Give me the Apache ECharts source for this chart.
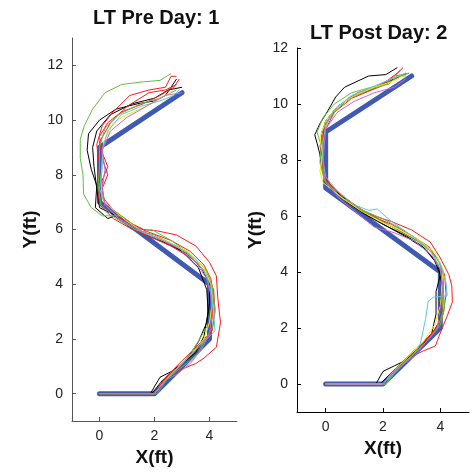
<!DOCTYPE html>
<html>
<head>
<meta charset="utf-8">
<script src="https://cdn.jsdelivr.net/npm/echarts@6/dist/echarts.min.js"></script>
<style>
  html, body { margin: 0; padding: 0; background: #fff; }
  #chart { width: 471px; height: 472px; }
</style>
</head>
<body>
<div id="chart"></div>
<script>
// reference (ideal) path, same for both days
const refPath = [[0, 0], [2, 0], [4, 2], [4, 4], [0, 7], [0, 9], [3, 11]];

const xTicks = [0, 2, 4];
const yTicksPre = [0, 2, 4, 6, 8, 10, 12];
const yTicksPost = [0, 2, 4, 6, 8, 10, 12];

const trialColors = {
  black: '#000000',
  red: '#ff1a1a',
  green: '#66bb44',
  yellow: '#eeee00',
  cyan: '#55c8e6',
  magenta: '#cc66cc'
};

// LT Pre Day: 1 - walked trials
const pre1 = [[0,0],[1.85,0],[2.2,0.6],[2.6,0.8],[3.0,1.1],[3.5,1.5],[3.8,2.1],[3.95,3.0],[3.9,3.8],[3.6,4.6],[3.0,5.2],[2.2,5.6],[1.5,5.9],[1.0,6.2],[0.6,6.5],[0.3,6.4],[-0.15,6.8],[-0.1,7.6],[-0.3,8.2],[-0.45,8.9],[-0.4,9.5],[0.0,10.0],[0.6,10.4],[1.4,10.6],[2.0,10.7],[2.4,10.9],[2.6,11.2],[2.8,11.5]];
const pre2 = [[0,0],[1.9,0],[2.3,0.5],[2.7,0.8],[3.2,1.3],[3.6,1.9],[3.9,2.6],[4.0,3.3],[4.0,4.0],[3.7,4.6],[3.2,5.1],[2.5,5.5],[1.7,5.8],[1.1,6.1],[0.6,6.5],[0.0,6.8],[-0.1,7.5],[-0.2,8.3],[-0.25,9.0],[-0.1,9.6],[0.4,10.2],[1.2,10.6],[2.0,10.8],[2.5,11.1],[3.0,11.2]];
const pre3 = [[0,0],[2.0,0],[2.5,0.7],[3.0,0.9],[3.5,1.1],[3.8,1.3],[4.25,1.7],[4.4,2.6],[4.3,3.5],[4.25,4.3],[4.0,4.8],[3.5,5.4],[2.8,5.8],[2.1,5.95],[1.6,6.0],[1.0,6.3],[0.5,6.7],[0.1,7.2],[0.1,7.8],[0.3,8.3],[0.1,8.8],[0.0,9.4],[0.3,9.9],[0.8,10.3],[1.6,10.6],[2.2,10.9],[2.7,11.2],[2.9,11.5]];
const pre4 = [[0,0],[2.0,0],[2.4,0.6],[2.9,1.0],[3.3,1.4],[3.7,1.9],[4.1,2.3],[4.2,3.0],[4.15,3.8],[3.9,4.4],[3.4,4.9],[2.6,5.4],[1.9,5.7],[1.2,6.0],[0.5,6.4],[0.0,6.9],[-0.05,7.6],[0.0,8.4],[-0.1,9.1],[0.1,9.8],[0.5,10.3],[1.1,10.9],[1.8,11.1],[2.4,11.2],[2.6,11.6],[2.8,11.6]];
const pre5 = [[0,0],[2.0,0],[2.3,0.4],[2.7,0.9],[3.1,1.3],[3.6,1.8],[4.0,2.1],[4.1,2.8],[4.15,3.6],[4.05,4.2],[3.8,4.7],[3.3,5.2],[2.6,5.6],[1.8,5.9],[1.1,6.2],[0.6,6.5],[0.2,6.9],[0.1,7.5],[0.3,8.0],[0.1,8.6],[0.0,9.2],[0.4,9.9],[1.0,10.5],[1.8,11.0],[2.4,11.1],[2.8,11.3]];
const pre6 = [[0,0],[2.0,0],[2.4,0.5],[2.9,0.9],[3.3,1.2],[3.6,1.5],[3.8,1.9],[4.1,2.4],[4.2,3.1],[4.1,3.9],[3.8,4.6],[3.3,5.1],[2.6,5.6],[1.9,6.0],[1.6,5.9],[0.8,6.5],[0.1,6.5],[-0.3,6.8],[-0.58,7.3],[-0.6,8.0],[-0.7,8.6],[-0.7,9.3],[-0.55,9.8],[-0.25,10.4],[0.2,11.0],[0.8,11.3],[1.6,11.4],[2.2,11.45],[2.6,11.7]];
const pre7 = [[0,0],[2.1,0],[2.5,0.6],[3.0,1.1],[3.4,1.6],[3.7,2.1],[4.0,2.6],[4.1,3.3],[4.1,3.9],[3.9,4.5],[3.4,5.0],[2.8,5.4],[2.0,5.8],[1.3,6.0],[0.6,6.4],[0.05,6.9],[-0.05,7.6],[0.0,8.3],[0.0,9.0],[0.2,9.7],[0.7,10.2],[1.5,10.6],[2.2,10.8],[2.6,11.0],[2.8,11.1]];
const pre8 = [[0,0],[2.0,0],[2.4,0.5],[2.9,1.0],[3.4,1.5],[3.8,2.0],[4.0,2.6],[4.1,3.3],[4.05,4.0],[3.8,4.6],[3.2,5.2],[2.4,5.6],[1.6,5.9],[1.0,6.3],[0.5,6.7],[0.1,7.1],[0.05,7.8],[0.1,8.5],[0.15,9.2],[0.5,9.9],[1.0,10.2],[1.7,10.5],[2.2,10.8],[2.6,11.0]];
const pre9 = [[0,0],[2.0,0],[2.5,0.6],[3.0,1.1],[3.5,1.6],[3.9,2.0],[4.2,2.3],[4.15,3.0],[4.05,3.7],[3.9,4.3],[3.5,4.9],[2.8,5.4],[2.0,5.7],[1.3,6.0],[0.7,6.4],[0.2,6.9],[0.0,7.5],[0.1,8.2],[0.1,8.9],[0.3,9.6],[0.8,10.2],[1.5,10.5],[2.2,10.7],[2.7,10.9],[2.9,11.1]];
const pre10 = [[0,0],[2.0,0],[2.4,0.5],[2.8,0.7],[3.3,1.1],[3.7,1.6],[4.0,2.2],[4.1,2.9],[4.05,3.6],[3.9,4.2],[3.5,4.8],[2.9,5.3],[2.1,5.7],[1.4,6.0],[0.7,6.4],[0.2,6.9],[0.1,7.5],[0.2,8.2],[0.1,8.9],[0.4,9.6],[1.0,10.1],[1.7,10.5],[2.4,10.9],[3.0,11.0]];

// LT Post Day: 2 - walked trials
const post1 = [[0,0],[1.75,0],[2.0,0.45],[2.4,0.65],[2.9,0.9],[3.3,1.3],[3.7,1.8],[3.85,2.5],[3.85,3.3],[4.0,3.9],[3.8,4.4],[3.4,4.9],[2.8,5.3],[2.0,5.7],[1.3,6.1],[0.6,6.6],[0.0,7.2],[-0.15,7.8],[-0.2,8.2],[-0.3,8.6],[-0.38,8.9],[-0.2,9.3],[0.07,9.75],[0.35,10.25],[0.66,10.6],[1.5,11.0],[2.1,11.05],[2.5,11.3]];
const post2 = [[0,0],[1.9,0],[2.2,0.3],[2.6,0.7],[3.1,1.1],[3.6,1.6],[3.95,2.2],[4.0,2.9],[4.05,3.6],[3.9,4.3],[3.5,4.8],[2.9,5.2],[2.2,5.6],[1.5,6.0],[0.8,6.5],[0.1,7.1],[-0.1,7.7],[-0.1,8.3],[-0.15,8.9],[0.0,9.4],[0.4,9.9],[1.0,10.3],[1.8,10.6],[2.4,10.9],[2.8,11.1]];
const post3 = [[0,0],[2.0,0],[2.4,0.4],[2.85,0.9],[3.4,1.18],[3.83,1.36],[3.95,1.7],[4.24,2.43],[4.42,2.93],[4.4,3.5],[4.3,3.9],[4.0,4.5],[3.65,5.07],[3.0,5.5],[2.3,5.8],[1.7,6.0],[1.1,6.3],[0.5,6.8],[0.0,7.3],[-0.1,8.0],[-0.2,8.5],[0.0,9.1],[0.3,9.7],[0.8,10.2],[1.5,10.5],[2.1,10.8],[2.5,11.1],[2.7,11.3]];
const post4 = [[0,0],[2.0,0],[2.4,0.5],[2.8,0.9],[3.3,1.4],[3.8,1.9],[4.1,2.5],[4.2,3.2],[4.15,3.9],[3.9,4.5],[3.4,5.0],[2.7,5.4],[2.0,5.8],[1.3,6.2],[0.6,6.7],[0.05,7.2],[-0.1,7.7],[-0.2,8.2],[-0.1,8.7],[-0.05,9.2],[0.3,9.7],[0.9,10.2],[1.6,10.5],[2.1,10.7],[2.6,11.0],[2.9,11.1]];
const post5 = [[0,0],[2.0,0],[2.3,0.3],[2.7,0.7],[3.2,1.2],[3.7,1.8],[4.05,2.3],[4.1,3.0],[4.1,3.7],[4.0,4.3],[3.6,4.9],[3.0,5.3],[2.3,5.7],[1.6,6.0],[0.9,6.4],[0.3,6.9],[0.0,7.4],[-0.1,8.0],[-0.15,8.7],[0.0,9.3],[0.4,9.9],[1.1,10.4],[1.8,10.6],[2.3,10.9],[2.6,11.2]];
const post6 = [[0,0],[2.1,0],[2.5,0.5],[3.0,1.0],[3.5,1.5],[3.9,2.0],[4.1,2.6],[4.05,3.3],[4.1,3.9],[3.9,4.5],[3.4,5.0],[2.7,5.5],[2.0,5.9],[1.3,6.2],[0.6,6.6],[0.0,7.2],[-0.15,7.8],[-0.1,8.4],[-0.15,9.0],[0.2,9.6],[0.8,10.2],[1.5,10.5],[2.1,10.7],[2.4,11.0],[2.9,11.1]];
const post7 = [[0,0],[2.1,0],[2.5,0.6],[3.0,1.0],[3.6,1.6],[4.0,2.1],[4.15,2.7],[4.1,3.4],[4.0,4.1],[3.7,4.7],[3.2,5.1],[2.5,5.5],[1.8,5.9],[1.1,6.3],[0.5,6.7],[-0.05,7.3],[-0.2,7.9],[-0.15,8.5],[-0.3,9.0],[-0.1,9.5],[0.3,10.0],[0.9,10.4],[1.6,10.6],[2.2,10.7],[2.5,11.0],[2.8,11.0]];
const post8 = [[0,0],[2.0,0],[2.4,0.5],[2.9,1.0],[3.4,1.5],[3.8,2.1],[4.0,2.8],[4.05,3.5],[4.1,4.1],[3.8,4.7],[3.3,5.1],[2.6,5.5],[1.9,5.8],[1.2,6.2],[0.5,6.7],[-0.1,7.2],[-0.2,7.6],[-0.1,8.2],[-0.2,8.8],[0.0,9.4],[0.4,9.9],[1.0,10.3],[1.7,10.6],[2.3,10.8],[2.7,11.0]];
const post9 = [[0,0],[2.0,0],[2.4,0.4],[2.8,0.8],[3.1,1.1],[3.3,1.43],[3.48,2.3],[3.58,2.96],[3.76,3.1],[4.24,3.15],[4.2,3.6],[4.0,4.3],[3.6,4.8],[3.0,5.3],[2.3,5.8],[1.8,6.25],[1.5,6.2],[1.0,6.4],[0.4,6.9],[0.0,7.4],[-0.1,8.0],[-0.1,8.6],[0.0,9.2],[0.3,9.8],[0.9,10.3],[1.6,10.6],[2.3,10.9],[2.8,11.1]];
const post10 = [[0,0],[2.0,0],[2.3,0.4],[2.7,0.7],[3.1,1.0],[3.5,1.5],[3.9,2.0],[4.0,2.7],[4.1,3.4],[4.0,4.1],[3.7,4.6],[3.1,5.1],[2.4,5.4],[1.7,5.6],[1.1,6.1],[0.5,6.6],[0.0,7.2],[-0.1,7.8],[-0.05,8.5],[0.0,9.1],[0.4,9.7],[1.0,10.1],[1.7,10.4],[2.4,10.6],[2.8,10.9]];

const preTrials = [
  ['black', pre1], ['black', pre2], ['red', pre3], ['red', pre4], ['red', pre5],
  ['green', pre6], ['green', pre7], ['yellow', pre8], ['cyan', pre9], ['magenta', pre10]
];
const postTrials = [
  ['black', post1], ['black', post2], ['red', post3], ['red', post4], ['red', post5],
  ['green', post6], ['green', post7], ['yellow', post8], ['cyan', post9], ['magenta', post10]
];

const FONT = 'Liberation Sans, Arial, sans-serif';

function makeAxes(idx, yMax, yTicks, axisColor) {
  const lineStyle = { color: axisColor, width: 1 };
  const x = {
    type: 'value', gridIndex: idx, min: -1, max: 5,
    axisLine: { show: true, onZero: false, lineStyle: lineStyle },
    axisTick: { show: true, inside: true, length: 4, customValues: xTicks, lineStyle: lineStyle },
    axisLabel: { customValues: xTicks, color: '#222', fontSize: 14, fontFamily: FONT, margin: 8 },
    splitLine: { show: false },
    name: 'X(ft)', nameLocation: 'middle', nameGap: 27,
    nameTextStyle: { fontSize: 19, fontWeight: 'bold', color: '#111', fontFamily: FONT }
  };
  const y = {
    type: 'value', gridIndex: idx, min: -1, max: yMax,
    axisLine: { show: true, onZero: false, lineStyle: lineStyle },
    axisTick: { show: true, inside: true, length: 4, customValues: yTicks, lineStyle: lineStyle },
    axisLabel: { customValues: yTicks, color: '#222', fontSize: 14, fontFamily: FONT, margin: 9 },
    splitLine: { show: false },
    name: 'Y(ft)', nameLocation: 'middle', nameGap: 32,
    nameTextStyle: { fontSize: 19, fontWeight: 'bold', color: '#111', fontFamily: FONT }
  };
  return [x, y];
}

function makeSeries(idx, trials) {
  const out = [{
    type: 'line', xAxisIndex: idx, yAxisIndex: idx,
    data: refPath, showSymbol: false, symbol: 'none',
    lineStyle: { color: '#3f5ab0', width: 5, cap: 'round', join: 'round' },
    silent: true, animation: false
  }];
  trials.forEach(function (t) {
    out.push({
      type: 'line', xAxisIndex: idx, yAxisIndex: idx,
      data: t[1], showSymbol: false, symbol: 'none',
      lineStyle: { color: trialColors[t[0]], width: 1 },
      silent: true, animation: false
    });
  });
  return out;
}

const chart = echarts.init(document.getElementById('chart'), null, { renderer: 'canvas' });

const preAxes = makeAxes(0, 13, yTicksPre, '#555');
const postAxes = makeAxes(1, 12, yTicksPost, '#000');

chart.setOption({
  animation: false,
  backgroundColor: '#fff',
  grid: [
    { left: 72, top: 38, width: 165, height: 385 },
    { left: 297, top: 48, width: 172, height: 364 }
  ],
  xAxis: [preAxes[0], postAxes[0]],
  yAxis: [preAxes[1], postAxes[1]],
  graphic: [
    { type: 'text', left: 93, top: 8,
      style: { text: 'LT Pre Day: 1', font: 'bold 20px ' + FONT, fill: '#111' } },
    { type: 'text', left: 310, top: 23,
      style: { text: 'LT Post Day: 2', font: 'bold 20px ' + FONT, fill: '#111' } }
  ],
  series: makeSeries(0, preTrials).concat(makeSeries(1, postTrials))
});
</script>
</body>
</html>
